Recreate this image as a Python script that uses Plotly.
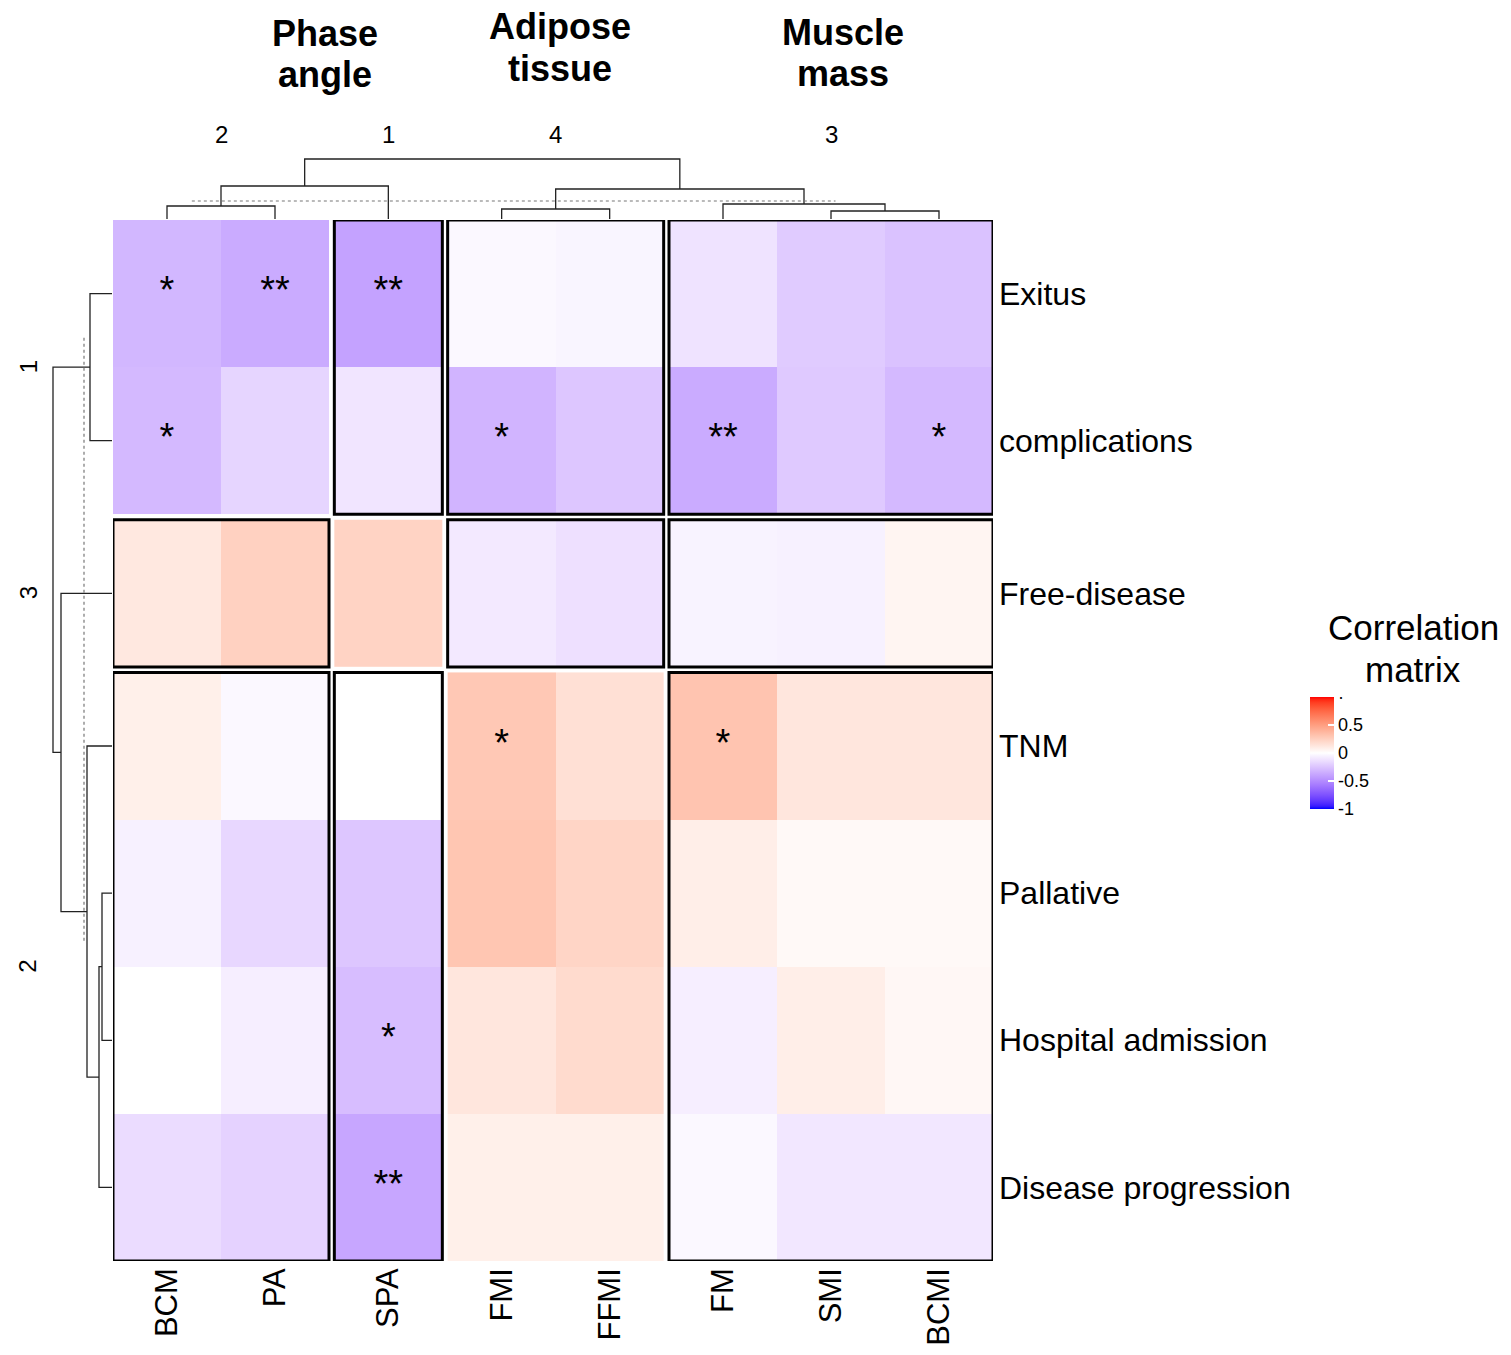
import numpy as np
import plotly.graph_objects as go

# ---------------- data ----------------
cols = ["BCM", "PA", "SPA", "FMI", "FFMI", "FM", "SMI", "BCMI"]
col_slice = [0, 0, 1, 2, 2, 3, 3, 3]
col_slice_labels = ["2", "1", "4", "3"]

rows = ["Exitus", "complications", "Free-disease", "TNM", "Pallative",
        "Hospital admission", "Disease progression"]
row_slice = [0, 0, 1, 2, 2, 2, 2]
row_slice_labels = ["1", "3", "2"]

vals_exitus = [-0.31, -0.36, -0.40, -0.03, -0.04, -0.12, -0.22, -0.26]
vals_compl = [-0.30, -0.18, -0.11, -0.32, -0.24, -0.36, -0.23, -0.30]
vals_free = [0.12, 0.24, 0.23, -0.09, -0.13, -0.05, -0.06, 0.05]
vals_tnm = [0.08, -0.03, 0.00, 0.29, 0.16, 0.31, 0.13, 0.13]
vals_pall = [-0.06, -0.17, -0.24, 0.30, 0.22, 0.09, 0.03, 0.03]
vals_hosp = [0.00, -0.07, -0.28, 0.13, 0.19, -0.07, 0.09, 0.04]
vals_prog = [-0.15, -0.19, -0.38, 0.08, 0.08, -0.03, -0.10, -0.10]
values = [vals_exitus, vals_compl, vals_free, vals_tnm, vals_pall, vals_hosp, vals_prog]

stars = [
    ["*", "**", "**", "", "", "", "", ""],
    ["*", "", "", "*", "", "**", "", "*"],
    ["", "", "", "", "", "", "", ""],
    ["", "", "", "*", "", "*", "", ""],
    ["", "", "", "", "", "", "", ""],
    ["", "", "*", "", "", "", "", ""],
    ["", "", "**", "", "", "", "", ""],
]

# block borders: [row slice][column slice]
block_border = [
    [False, True, True, True],
    [True, False, True, True],
    [True, True, False, True],
]

# column dendrogram (hclust-style merge: negative = leaf, positive = node)
col_merge_left = [-1, 1, -4, -7, -6, 3, 2]
col_merge_right = [-2, -3, -5, -8, 4, 5, 6]
col_merge_height = [13, 33, 10, 8, 15, 30, 60]
col_cut_height = 18

row_merge_left = [-1, -5, 2, -4, -3, 1]
row_merge_right = [-2, -6, -7, 3, 4, 5]
row_merge_height = [22, 10, 13, 25, 51, 59]
row_cut_height = 28

group_titles = [("Phase", "angle"), ("Adipose", "tissue"), ("Muscle", "mass")]

# ---------------- geometry helpers ----------------
W, H = 1511, 1355
FONT = "Liberation Sans, Arial, Helvetica, sans-serif"
gx = 5.33 / 108.0
gy = 5.5 / 147.14

col_left = [i + col_slice[i] * gx for i in range(len(cols))]
col_center = [v + 0.5 for v in col_left]
row_top = [i + row_slice[i] * gy for i in range(len(rows))]
row_center = [v + 0.5 for v in row_top]
x_max = len(cols) + (max(col_slice)) * gx
y_max = len(rows) + (max(row_slice)) * gy


def px_x(p):
    return p / W


def px_y(p):
    return 1 - p / H


# ---------------- LAB colour ramp (blue - white - red) ----------------
def srgb_to_lab(rgb):
    c = np.array(rgb, dtype=float) / 255.0
    c = np.where(c > 0.04045, ((c + 0.055) / 1.055) ** 2.4, c / 12.92)
    M = np.array([[0.4124, 0.3576, 0.1805],
                  [0.2126, 0.7152, 0.0722],
                  [0.0193, 0.1192, 0.9505]])
    xyz = M @ c
    xyz = xyz / np.array([0.95047, 1.0, 1.08883])
    f = np.where(xyz > 0.008856, np.cbrt(xyz), 7.787 * xyz + 16 / 116)
    return np.array([116 * f[1] - 16, 500 * (f[0] - f[1]), 200 * (f[1] - f[2])])


def lab_to_srgb(lab):
    L, a, b = lab
    fy = (L + 16) / 116
    fx = fy + a / 500
    fz = fy - b / 200
    f = np.array([fx, fy, fz])
    xyz = np.where(f ** 3 > 0.008856, f ** 3, (f - 16 / 116) / 7.787)
    xyz = xyz * np.array([0.95047, 1.0, 1.08883])
    Minv = np.array([[3.2406, -1.5372, -0.4986],
                     [-0.9689, 1.8758, 0.0415],
                     [0.0557, -0.2040, 1.0570]])
    c = Minv @ xyz
    c = np.clip(c, 0, 1)
    c = np.where(c > 0.0031308, 1.055 * c ** (1 / 2.4) - 0.055, 12.92 * c)
    c = np.clip(np.round(c * 255), 0, 255).astype(int)
    return "rgb(%d,%d,%d)" % tuple(c)


lab_blue = srgb_to_lab([0, 0, 255])
lab_white = srgb_to_lab([255, 255, 255])
lab_red = srgb_to_lab([255, 0, 0])
colorscale = []
n = 40
for i in range(n + 1):
    t = i / n
    v = -1 + 2 * t
    if v <= 0:
        lab = lab_blue + (lab_white - lab_blue) * (v + 1)
    else:
        lab = lab_white + (lab_red - lab_white) * v
    colorscale.append([t, lab_to_srgb(lab)])

fig = go.Figure()

# ---------------- heatmap blocks ----------------
for rs in range(len(row_slice_labels)):
    r_idx = [r for r in range(len(rows)) if row_slice[r] == rs]
    for cs in range(len(col_slice_labels)):
        c_idx = [c for c in range(len(cols)) if col_slice[c] == cs]
        z = [[values[r][c] for c in c_idx] for r in r_idx]
        fig.add_trace(go.Heatmap(
            z=z, x0=col_center[c_idx[0]], dx=1, y0=row_center[r_idx[0]], dy=1,
            coloraxis="coloraxis", xaxis="x", yaxis="y", hoverinfo="skip"))
        if block_border[rs][cs]:
            fig.add_shape(type="rect", xref="x", yref="y",
                          x0=col_left[c_idx[0]], x1=col_left[c_idx[-1]] + 1,
                          y0=row_top[r_idx[0]], y1=row_top[r_idx[-1]] + 1,
                          line=dict(color="black", width=3))

# ---------------- significance stars ----------------
sx, sy, st = [], [], []
for r in range(len(rows)):
    for c in range(len(cols)):
        if stars[r][c]:
            sx.append(col_center[c])
            sy.append(row_center[r])
            st.append(stars[r][c])
fig.add_trace(go.Scatter(x=sx, y=sy, text=st, mode="text", xaxis="x", yaxis="y",
                         textposition="middle center",
                         textfont=dict(size=38, color="black", family=FONT),
                         hoverinfo="skip", showlegend=False))


# ---------------- dendrograms ----------------
def dendro(left, right, height, leaf_pos):
    node_pos, node_h = {}, {}

    def get(k):
        if k < 0:
            return leaf_pos[-k - 1], 0.0
        return node_pos[k], node_h[k]

    P, Hh = [], []
    for j in range(len(left)):
        lp, lh = get(left[j])
        rp, rh = get(right[j])
        h = height[j]
        P += [lp, lp, rp, rp, None]
        Hh += [lh, h, h, rh, None]
        node_pos[j + 1] = (lp + rp) / 2
        node_h[j + 1] = h
    return P, Hh


cp, ch = dendro(col_merge_left, col_merge_right, col_merge_height, col_center)
fig.add_trace(go.Scatter(x=cp, y=ch, mode="lines", xaxis="x", yaxis="y2",
                         line=dict(color="#222222", width=1.3), hoverinfo="skip",
                         showlegend=False))
rp_, rh_ = dendro(row_merge_left, row_merge_right, row_merge_height, row_center)
fig.add_trace(go.Scatter(x=rh_, y=rp_, mode="lines", xaxis="x2", yaxis="y",
                         line=dict(color="#222222", width=1.3), hoverinfo="skip",
                         showlegend=False))

# cut lines
fig.add_trace(go.Scatter(x=[0.73, 6.69], y=[col_cut_height, col_cut_height], mode="lines",
                         xaxis="x", yaxis="y2",
                         line=dict(color="#777777", width=1.2, dash="dot"),
                         hoverinfo="skip", showlegend=False))
fig.add_trace(go.Scatter(x=[row_cut_height, row_cut_height], y=[0.80, 4.91], mode="lines",
                         xaxis="x2", yaxis="y",
                         line=dict(color="#777777", width=1.2, dash="dot"),
                         hoverinfo="skip", showlegend=False))

# ---------------- annotations ----------------
ann = []
for cs, lab in enumerate(col_slice_labels):
    c_idx = [c for c in range(len(cols)) if col_slice[c] == cs]
    xc = (col_left[c_idx[0]] + col_left[c_idx[-1]] + 1) / 2
    ann.append(dict(x=xc, y=px_y(134), xref="x", yref="paper", text=lab, showarrow=False,
                    font=dict(size=24, color="black", family=FONT),
                    xanchor="center", yanchor="middle"))
for rs, lab in enumerate(row_slice_labels):
    r_idx = [r for r in range(len(rows)) if row_slice[r] == rs]
    yc = (row_top[r_idx[0]] + row_top[r_idx[-1]] + 1) / 2
    ann.append(dict(x=px_x(28), y=yc, xref="paper", yref="y", text=lab, showarrow=False,
                    textangle=-90, font=dict(size=24, color="black", family=FONT),
                    xanchor="center", yanchor="middle"))

title_pos = [(325, 33, 74), (560, 27, 69), (843, 32, 73)]
for (l1, l2), (xp, y1, y2) in zip(group_titles, title_pos):
    for txt, yp in ((l1, y1), (l2, y2)):
        ann.append(dict(x=px_x(xp), y=px_y(yp), xref="paper", yref="paper",
                        text="<b>%s</b>" % txt, showarrow=False,
                        font=dict(size=36, color="black", family=FONT),
                        xanchor="center", yanchor="middle"))

for txt, yp in (("Correlation", 628), ("matrix", 669)):
    ann.append(dict(x=px_x(1413), y=px_y(yp), xref="paper", yref="paper", text=txt,
                    showarrow=False, font=dict(size=35, color="black", family=FONT),
                    xanchor="center", yanchor="middle"))

fig.update_layout(
    width=W, height=H, margin=dict(l=0, r=0, t=0, b=0),
    paper_bgcolor="white", plot_bgcolor="white", showlegend=False,
    annotations=ann,
    coloraxis=dict(
        colorscale=colorscale, cmin=-1, cmax=1,
        colorbar=dict(
            x=px_x(1310), xanchor="left", y=px_y(753), yanchor="middle",
            lenmode="pixels", len=112, thickness=24, thicknessmode="pixels",
            xpad=0, ypad=0, outlinewidth=0,
            tickvals=[-1, -0.5, 0, 0.5, 1], ticktext=["-1", "-0.5", "0", "0.5", "·"],
            ticks="inside", tickcolor="white", ticklen=6, tickwidth=1.5,
            tickfont=dict(size=18, color="black", family=FONT),
        ),
    ),
    xaxis=dict(domain=[px_x(113), px_x(993)], range=[0, x_max], anchor="y",
               tickvals=col_center, ticktext=cols, tickangle=-90,
               tickfont=dict(size=31, color="black", family=FONT),
               ticks="", showgrid=False, zeroline=False, showline=False,
               ticklabelstandoff=0),
    yaxis=dict(domain=[px_y(1261), px_y(220)], range=[y_max, 0], anchor="x", side="right",
               tickvals=row_center, ticktext=rows,
               tickfont=dict(size=32, color="black", family=FONT),
               ticks="", showgrid=False, zeroline=False, showline=False,
               ticklabelstandoff=5),
    yaxis2=dict(domain=[px_y(219), px_y(150)], range=[0, 69], anchor="x", visible=False),
    xaxis2=dict(domain=[px_x(40), px_x(112)], range=[72, 0], anchor="y", visible=False),
)

fig.write_html("out.html", config={"displayModeBar": False},
               post_script="document.body.style.margin='0';document.body.style.overflow='hidden';")
